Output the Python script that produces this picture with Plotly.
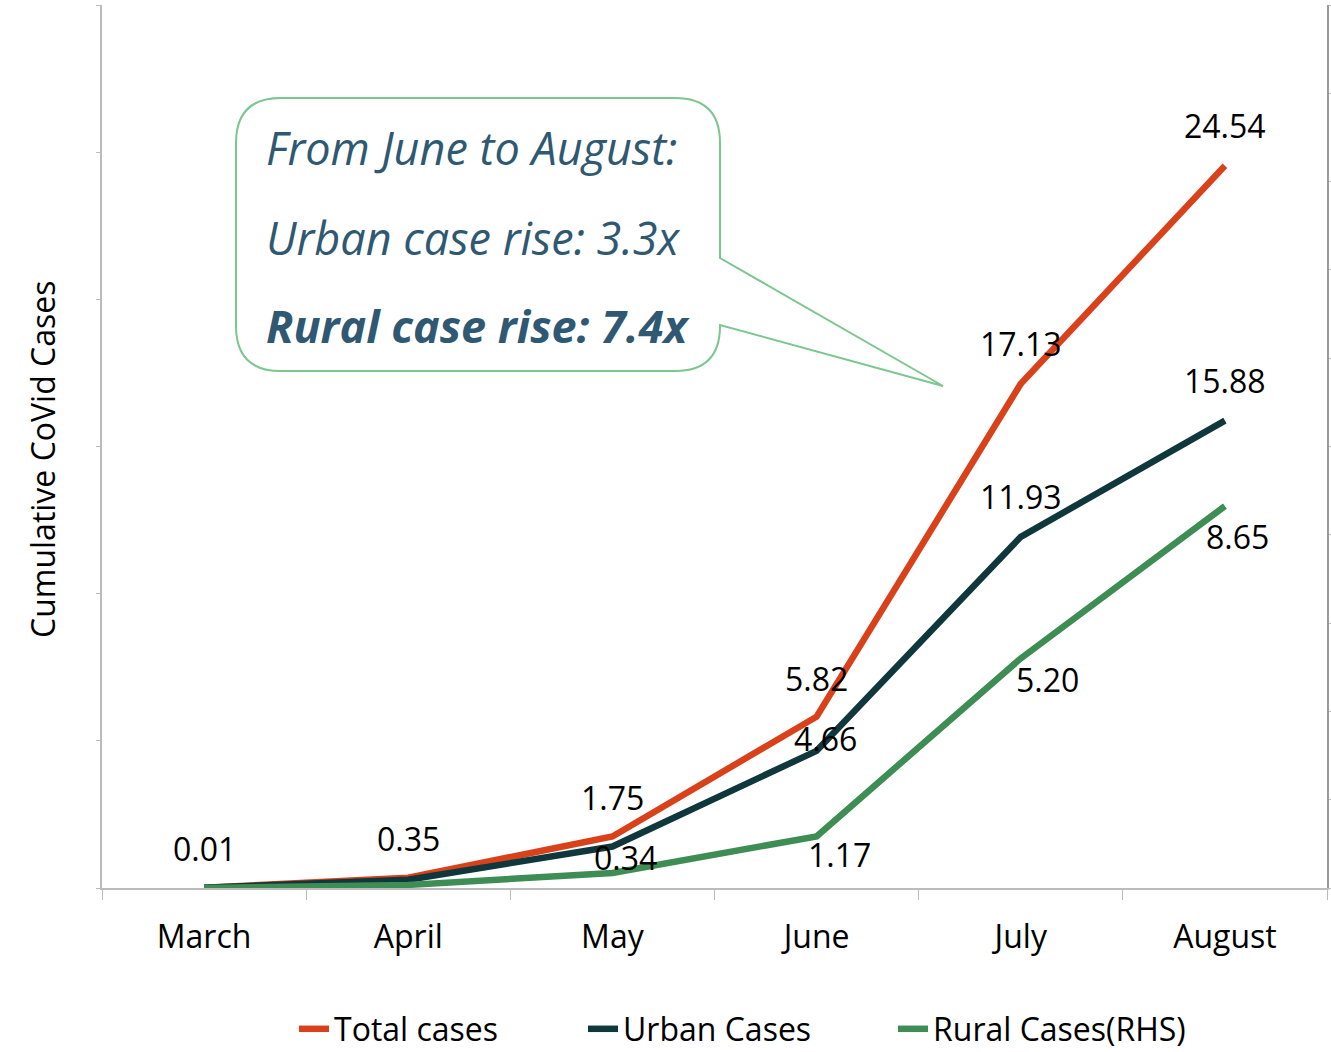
import plotly.graph_objects as go

months = ["March", "April", "May", "June", "July", "August"]
total_cases = [0.01, 0.35, 1.75, 5.82, 17.13, 24.54]
urban_cases = [0.01, 0.28, 1.41, 4.66, 11.93, 15.88]
rural_cases = [0.00, 0.07, 0.34, 1.17, 5.20, 8.65]

# which points carry a value label, with label offsets (px)
total_labels = [0, 1, 2, 3, 4, 5]
total_offsets = [(0, 39), (0, 39), (0, 39), (0, 38), (0, 40), (0, 40)]
urban_labels = [3, 4, 5]
urban_offsets = [(9, 12), (0, 40), (0, 40)]
rural_labels = [2, 3, 4, 5]
rural_offsets = [(13, 15), (23, -18), (27, -21), (13, -30)]

callout_lines = ["From June to August:", "Urban case rise: 3.3x", "<b>Rural case rise: 7.4x</b>"]

C_TOTAL = "#D9411B"
C_URBAN = "#10373B"
C_RURAL = "#3E8D55"
FONT = "Open Sans"

W, H = 1331, 1052
L, R, T, B = 102, 4, 5, 164
PW = W - L - R
PH = H - T - B


def px(x):
    return (x - L) / PW


def py(y):
    return (H - B - y) / PH


fig = go.Figure()
fig.add_trace(go.Scatter(x=months, y=total_cases, name="Total cases", mode="lines",
                         line=dict(color=C_TOTAL, width=6.5), legend="legend"))
fig.add_trace(go.Scatter(x=months, y=urban_cases, name="Urban Cases", mode="lines",
                         line=dict(color=C_URBAN, width=6.5), legend="legend2"))
fig.add_trace(go.Scatter(x=months, y=rural_cases, name="Rural Cases(RHS)", mode="lines",
                         line=dict(color=C_RURAL, width=6.5), yaxis="y2", legend="legend3"))

annotations = []
for idxs, offs, vals, ax in [(total_labels, total_offsets, total_cases, "y"),
                             (urban_labels, urban_offsets, urban_cases, "y"),
                             (rural_labels, rural_offsets, rural_cases, "y2")]:
    for i, (dx, dy) in zip(idxs, offs):
        annotations.append(dict(x=months[i], y=vals[i], xref="x", yref=ax,
                                text=f"{vals[i]:.2f}", showarrow=False,
                                xshift=dx, yshift=dy,
                                font=dict(family=FONT, size=32, color="#000000")))

# axis title
annotations.append(dict(x=px(42), y=py(459), xref="paper", yref="paper",
                        xanchor="center", yanchor="middle",
                        text="Cumulative CoVid Cases", textangle=-90, showarrow=False,
                        font=dict(family=FONT, size=32, color="#000000")))

# callout text
for t, yy in zip(callout_lines, [147, 237, 325]):
    annotations.append(dict(x=px(264), y=py(yy), xref="paper", yref="paper",
                            xanchor="left", yanchor="middle", text=f"<i>{t}</i>",
                            showarrow=False,
                            font=dict(family=FONT, size=45, color="#2F5872")))

# callout shape (rounded box with pointer)
x0, x1, y0, y1, r = 236, 720, 98, 371, 45
tip = (943, 386)
pts = [
    ("M", [(x0 + r, y0)]),
    ("L", [(x1 - r, y0)]),
    ("Q", [(x1, y0), (x1, y0 + r)]),
    ("L", [(x1, 258)]),
    ("L", [tip]),
    ("L", [(x1, 325)]),
    ("L", [(x1, y1 - r)]),
    ("Q", [(x1, y1), (x1 - r, y1)]),
    ("L", [(x0 + r, y1)]),
    ("Q", [(x0, y1), (x0, y1 - r)]),
    ("L", [(x0, y0 + r)]),
    ("Q", [(x0, y0), (x0 + r, y0)]),
]
path = ""
for cmd, ps in pts:
    path += cmd + " " + " ".join(f"{px(a):.5f},{py(b):.5f}" for a, b in ps) + " "
path += "Z"


def legend_at(xpix):
    return dict(orientation="h", x=px(xpix), xanchor="left", y=py(1029), yanchor="middle",
                font=dict(family=FONT, size=32, color="#000000"),
                bgcolor="rgba(0,0,0,0)", borderwidth=0)


fig.update_layout(
    width=W, height=H,
    margin=dict(l=L, r=R, t=T, b=B, autoexpand=False),
    paper_bgcolor="white", plot_bgcolor="white",
    font=dict(family=FONT, size=32, color="#000000"),
    showlegend=True,
    legend=legend_at(294),
    legend2=legend_at(583),
    legend3=legend_at(893),
    xaxis=dict(type="category", showline=True, linecolor="#BBBBBB", linewidth=2,
               ticks="outside", ticklen=10, tickcolor="#BBBBBB", tickwidth=1,
               tickson="boundaries", showgrid=False, zeroline=False, automargin=False,
               ticklabelstandoff=20, tickfont=dict(family=FONT, size=32, color="#000000"),
               range=[-0.5, 5.5]),
    yaxis=dict(range=[0, 30], dtick=5, showline=True, linecolor="#BBBBBB", linewidth=2,
               ticks="outside", ticklen=4, tickcolor="#BBBBBB", showticklabels=False,
               showgrid=False, zeroline=False, automargin=False),
    yaxis2=dict(range=[0, 20], dtick=2, overlaying="y", side="right", showline=True,
                linecolor="#999999", linewidth=2, ticks="outside", ticklen=3,
                tickcolor="#BBBBBB", showticklabels=False, showgrid=False, zeroline=False,
                automargin=False),
    annotations=annotations,
    shapes=[dict(type="path", path=path, xref="paper", yref="paper",
                 line=dict(color="#7CC68F", width=2), fillcolor="white", layer="above")],
)

fig.write_html("out.html", config={"displayModeBar": False},
               post_script="document.body.style.margin='0';document.body.style.overflow='hidden';")
